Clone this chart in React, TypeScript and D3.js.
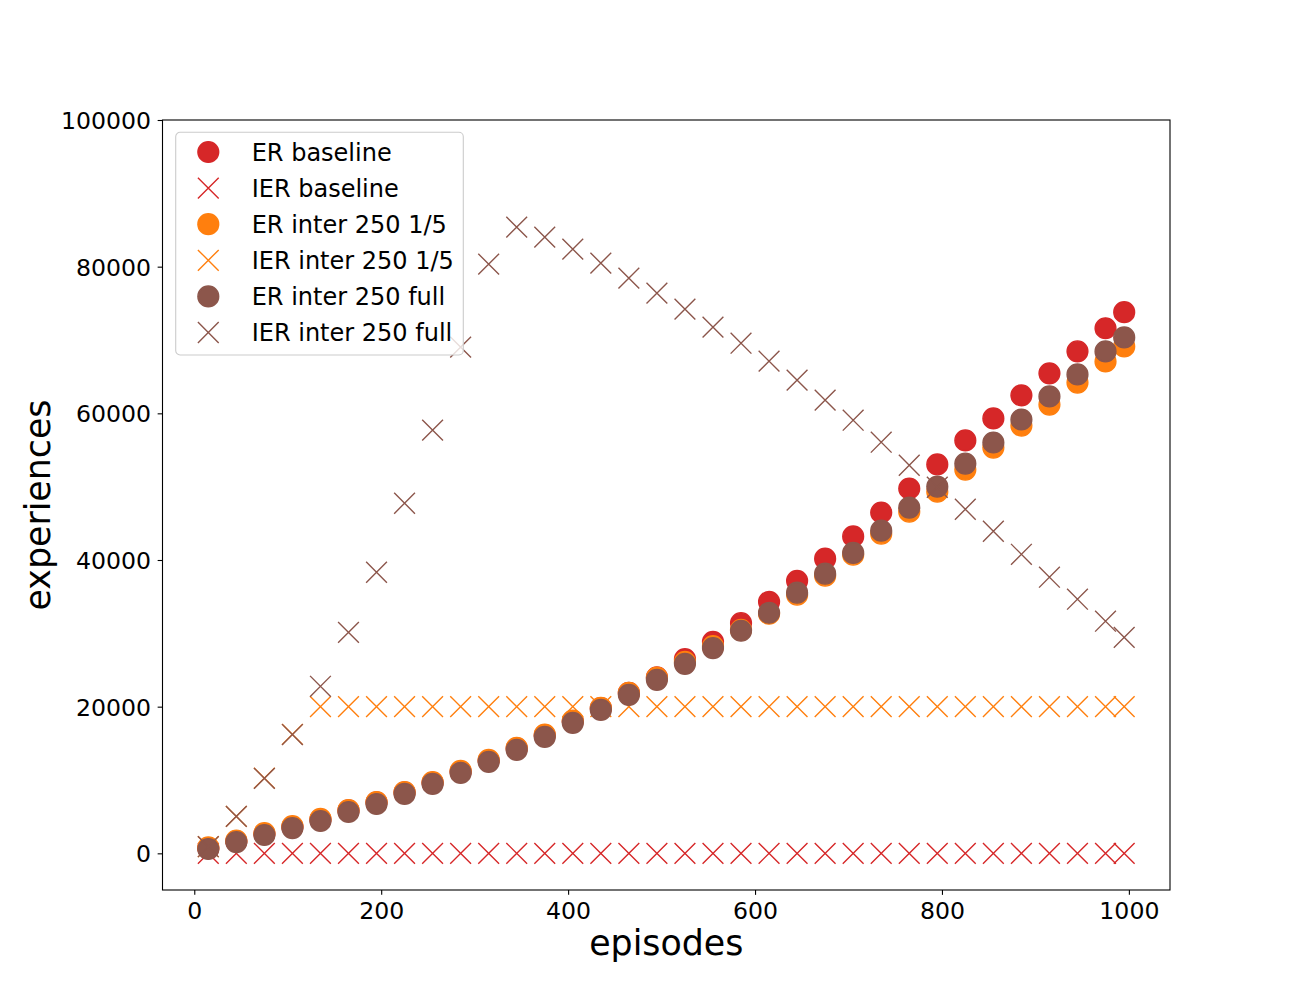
import React, { useEffect, useRef } from 'react';
import * as d3 from 'd3';

// episode index of each sample
const episodes = [
  15, 45, 75, 105, 135, 165, 195, 225, 255, 285, 315, 345, 375, 405, 435, 465, 495,
  525, 555, 585, 615, 645, 675, 705, 735, 765, 795, 825, 855, 885, 915, 945, 975, 995,
];

const erBaseline = [
  700, 1650, 2650, 3600, 4600, 5850, 6950, 8300, 9650, 11150, 12650, 14300, 16100, 18000,
  19800, 21900, 24000, 26480, 28850, 31400, 34310, 37170, 40180, 43220, 46480, 49750,
  53030, 56310, 59310, 62450, 65450, 68460, 71600, 73790,
];
const ierBaseline = [
  0, 0, 0, 0, 0, 0, 0, 0, 0, 0, 0, 0, 0, 0, 0, 0, 0,
  0, 0, 0, 0, 0, 0, 0, 0, 0, 0, 0, 0, 0, 0, 0, 0, 0,
];
const erInter15 = [
  800, 1750, 2750, 3700, 4700, 5900, 7000, 8350, 9700, 11250, 12750, 14400, 16200, 18100,
  19850, 21900, 23950, 26100, 28250, 30480, 32670, 35270, 37860, 40720, 43590, 46590,
  49320, 52330, 55330, 58330, 61200, 64200, 67070, 69120,
];
const ierInter15 = [
  900, 5050, 10250, 16230, 20000, 20000, 20000, 20000, 20000, 20000, 20000, 20000, 20000,
  20000, 20000, 20000, 20000, 20000, 20000, 20000, 20000, 20000, 20000, 20000, 20000,
  20000, 20000, 20000, 20000, 20000, 20000, 20000, 20000, 20000,
];
const erInterFull = [
  590, 1540, 2500, 3450, 4410, 5640, 6730, 8100, 9460, 10960, 12460, 14100, 15880, 17790,
  19560, 21610, 23660, 25840, 27990, 30350, 32810, 35540, 38130, 40960, 44000, 47140,
  50010, 53150, 56020, 59160, 62300, 65300, 68440, 70350,
];
const ierInterFull = [
  900, 5050, 10230, 16200, 22780, 30140, 38330, 47740, 57700, 69020, 80340, 85390, 84020,
  82390, 80480, 78430, 76380, 74200, 71750, 69560, 67110, 64520, 61790, 59060, 56060,
  52920, 49920, 46920, 43920, 40780, 37650, 34650, 31650, 29460,
];

const xTicks = [0, 200, 400, 600, 800, 1000];
const yTicks = [0, 20000, 40000, 60000, 80000, 100000];

const series = [
  { label: 'ER baseline', values: erBaseline, color: '#d62728', marker: 'o' },
  { label: 'IER baseline', values: ierBaseline, color: '#d62728', marker: 'x' },
  { label: 'ER inter 250 1/5', values: erInter15, color: '#ff7f0e', marker: 'o' },
  { label: 'IER inter 250 1/5', values: ierInter15, color: '#ff7f0e', marker: 'x' },
  { label: 'ER inter 250 full', values: erInterFull, color: '#8c564b', marker: 'o' },
  { label: 'IER inter 250 full', values: ierInterFull, color: '#8c564b', marker: 'x' },
];

const FONT = "'DejaVu Sans', sans-serif";

export default function App() {
  const svgRef = useRef<SVGSVGElement>(null);

  useEffect(() => {
    if (!svgRef.current) return;
    const svg = d3.select(svgRef.current);
    svg.selectAll('*').remove();

    const width = 1300;
    const height = 1000;
    const margin = { top: 120, right: 130, bottom: 110, left: 162.5 };

    const x = d3.scaleLinear().domain([-34, 1044]).range([margin.left, width - margin.right]);
    const y = d3.scaleLinear().domain([-5000, 100000]).range([height - margin.bottom, margin.top]);

    const r = 10.4; // marker half size
    const crossPath = `M${-r},${-r}L${r},${r}M${-r},${r}L${r},${-r}`;

    svg.append('rect')
      .attr('width', width)
      .attr('height', height)
      .attr('fill', '#ffffff');

    // markers
    const plot = svg.append('g');
    series.forEach(s => {
      const pts = s.values.map((v, i) => [episodes[i], v] as [number, number]);
      if (s.marker === 'o') {
        plot.append('g')
          .selectAll('circle')
          .data(pts)
          .enter()
          .append('circle')
          .attr('cx', d => x(d[0]))
          .attr('cy', d => y(d[1]))
          .attr('r', r)
          .attr('fill', s.color)
          .attr('stroke', s.color)
          .attr('stroke-width', 1.39);
      } else {
        plot.append('g')
          .selectAll('path')
          .data(pts)
          .enter()
          .append('path')
          .attr('transform', d => `translate(${x(d[0])},${y(d[1])})`)
          .attr('d', crossPath)
          .attr('fill', 'none')
          .attr('stroke', s.color)
          .attr('stroke-width', 1.39);
      }
    });

    // axes
    const xAxis = svg.append('g')
      .attr('transform', `translate(0,${height - margin.bottom})`)
      .call(d3.axisBottom(x).tickValues(xTicks).tickSize(4.86).tickSizeOuter(0).tickPadding(7.2).tickFormat(d3.format('d')));
    const yAxis = svg.append('g')
      .attr('transform', `translate(${margin.left},0)`)
      .call(d3.axisLeft(y).tickValues(yTicks).tickSize(4.86).tickSizeOuter(0).tickPadding(6.6).tickFormat(d3.format('d')));

    [xAxis, yAxis].forEach(ax => {
      ax.select('.domain').remove();
      ax.selectAll('line').attr('stroke', '#000').attr('stroke-width', 1.1);
      ax.selectAll('text')
        .attr('fill', '#000')
        .style('font-family', FONT)
        .style('font-size', '23.6px');
    });
    yAxis.selectAll('text').attr('dy', '0.36em');

    // frame
    svg.append('rect')
      .attr('x', margin.left)
      .attr('y', margin.top)
      .attr('width', width - margin.left - margin.right)
      .attr('height', height - margin.top - margin.bottom)
      .attr('fill', 'none')
      .attr('stroke', '#000')
      .attr('stroke-width', 1.1);

    // axis labels
    svg.append('text')
      .attr('x', (margin.left + width - margin.right) / 2)
      .attr('y', 955)
      .attr('text-anchor', 'middle')
      .style('font-family', FONT)
      .style('font-size', '34.8px')
      .text('episodes');

    svg.append('text')
      .attr('transform', `translate(50,${(margin.top + height - margin.bottom) / 2}) rotate(-90)`)
      .attr('text-anchor', 'middle')
      .style('font-family', FONT)
      .style('font-size', '34.8px')
      .text('experiences');

    // legend
    const legend = svg.append('g').attr('transform', 'translate(175.7,132.3)');
    legend.append('rect')
      .attr('width', 287.6)
      .attr('height', 222.7)
      .attr('rx', 4.4)
      .attr('fill', '#ffffff')
      .attr('fill-opacity', 0.8)
      .attr('stroke', '#cccccc')
      .attr('stroke-width', 1.1);

    series.forEach((s, i) => {
      const row = legend.append('g').attr('transform', `translate(32.6,${19.7 + i * 36.1})`);
      if (s.marker === 'o') {
        row.append('circle')
          .attr('r', r)
          .attr('fill', s.color)
          .attr('stroke', s.color)
          .attr('stroke-width', 1.39);
      } else {
        row.append('path')
          .attr('d', crossPath)
          .attr('fill', 'none')
          .attr('stroke', s.color)
          .attr('stroke-width', 1.39);
      }
      row.append('text')
        .attr('x', 43.4)
        .attr('dy', '0.36em')
        .style('font-family', FONT)
        .style('font-size', '24px')
        .text(s.label);
    });
  }, []);

  return (
    <div>
      <style>{'body{margin:0}'}</style>
      <svg ref={svgRef} width={1300} height={1000} style={{ display: 'block' }} />
    </div>
  );
}
